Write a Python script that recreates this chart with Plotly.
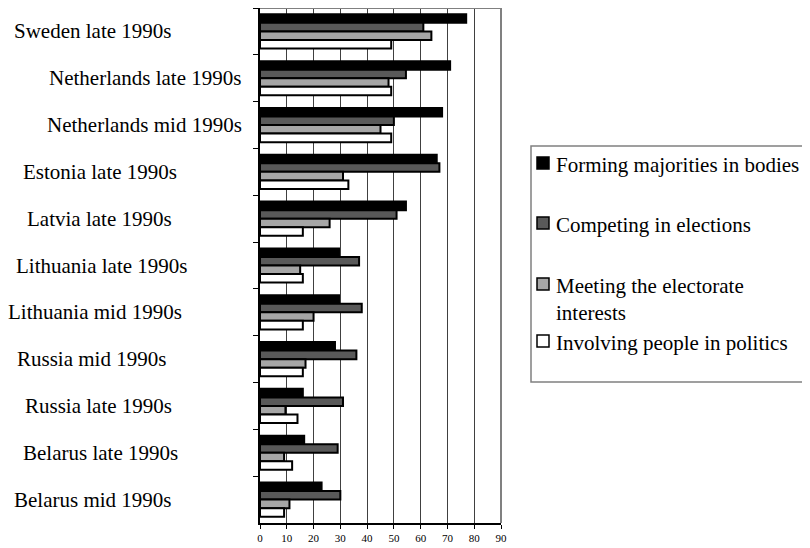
import plotly.graph_objects as go

categories = [
    "Sweden late 1990s", "Netherlands late 1990s", "Netherlands mid 1990s",
    "Estonia late 1990s", "Latvia late 1990s", "Lithuania late 1990s",
    "Lithuania mid 1990s", "Russia mid 1990s", "Russia late 1990s",
    "Belarus late 1990s", "Belarus mid 1990s",
]
series_names = [
    "Forming majorities in bodies",
    "Competing in elections",
    "Meeting the electorate<br>interests",
    "Involving people in politics",
]
forming = [77, 71, 68, 66, 54.5, 29.5, 29.5, 28, 16, 16.5, 23]
competing = [61, 54.5, 50, 67, 51, 37, 38, 36, 31, 29, 30]
meeting = [64, 48, 45, 31, 26, 15, 20, 17, 9.5, 9, 11]
involving = [49, 49, 49, 33, 16, 16, 16, 16, 14, 12, 9]
x_ticks = [0, 10, 20, 30, 40, 50, 60, 70, 80, 90]

colors = ["#000000", "#595959", "#a6a6a6", "#ffffff"]
font = "Liberation Serif"

# the page body adds an 8px margin, so the figure is drawn 8px smaller
OFF = 8
W, H = 810 - OFF, 548 - OFF
ML, MR, MT, MB = 260 - OFF, 309, 5 - OFF + 3, 25
ML = 252
MT = 0
PW, PH = W - ML - MR, H - MT - MB


def px(x):
    return (x - OFF - ML) / PW


def py(y):
    return (H - MB - (y - OFF)) / PH


fig = go.Figure()
for name, vals, col in zip(series_names, [forming, competing, meeting, involving], colors):
    fig.add_trace(go.Bar(
        y=categories, x=vals, orientation="h", name=name,
        marker=dict(color=col, line=dict(color="#000000", width=2)),
        showlegend=False,
    ))

# category labels (centred at the positions seen in the original)
label_centres = [92, 145, 144, 100, 99, 101, 95, 91, 98, 100, 93]
annotations = []
for cat, cx in zip(categories, label_centres):
    annotations.append(dict(
        x=px(cx), xref="paper", y=cat, yref="y", text=cat, showarrow=False,
        xanchor="center", yanchor="middle", font=dict(family=font, size=21, color="#000"),
    ))

# manual legend
shapes = [
    dict(type="rect", xref="paper", yref="paper", x0=px(531), x1=px(815), y0=py(382), y1=py(146),
         line=dict(color="#808080", width=1.5), fillcolor="rgba(0,0,0,0)"),
    dict(type="line", xref="paper", yref="paper", x0=0, x1=1, y0=1, y1=1,
         line=dict(color="#808080", width=2)),
    dict(type="line", xref="paper", yref="paper", x0=1, x1=1, y0=0, y1=1,
         line=dict(color="#808080", width=2)),
]
legend_y = [163, 223, 284, 341]
for name, col, ly in zip(series_names, colors, legend_y):
    shapes.append(dict(type="rect", xref="paper", yref="paper",
                       x0=px(537), x1=px(549), y0=py(ly + 6), y1=py(ly - 6),
                       fillcolor=col, line=dict(color="#000", width=1.5)))
    annotations.append(dict(
        x=px(554), xref="paper", y=py(ly - 12), yref="paper", text=name, showarrow=False,
        xanchor="left", yanchor="top", align="left",
        font=dict(family=font, size=21, color="#000"),
    ))

fig.update_layout(
    width=W, height=H,
    margin=dict(l=ML, r=MR, t=MT, b=MB),
    paper_bgcolor="white", plot_bgcolor="white",
    barmode="group", bargap=0.27, bargroupgap=0,
    font=dict(family=font, color="#000"),
    annotations=annotations, shapes=shapes,
    xaxis=dict(
        range=[0, 90], tickvals=x_ticks, ticktext=[str(v) for v in x_ticks],
        showgrid=True, gridcolor="#404040", gridwidth=1,
        showline=True, linecolor="#000", linewidth=1.5,
        ticks="outside", ticklen=4, tickcolor="#000",
        tickfont=dict(family=font, size=11), zeroline=False,
    ),
    yaxis=dict(
        autorange="reversed", showticklabels=False,
        showline=True, linecolor="#000", linewidth=1.5,
        ticks="outside", ticklen=5, tickcolor="#000", tickson="boundaries",
        showgrid=False,
    ),
)

fig.write_html("out.html")
